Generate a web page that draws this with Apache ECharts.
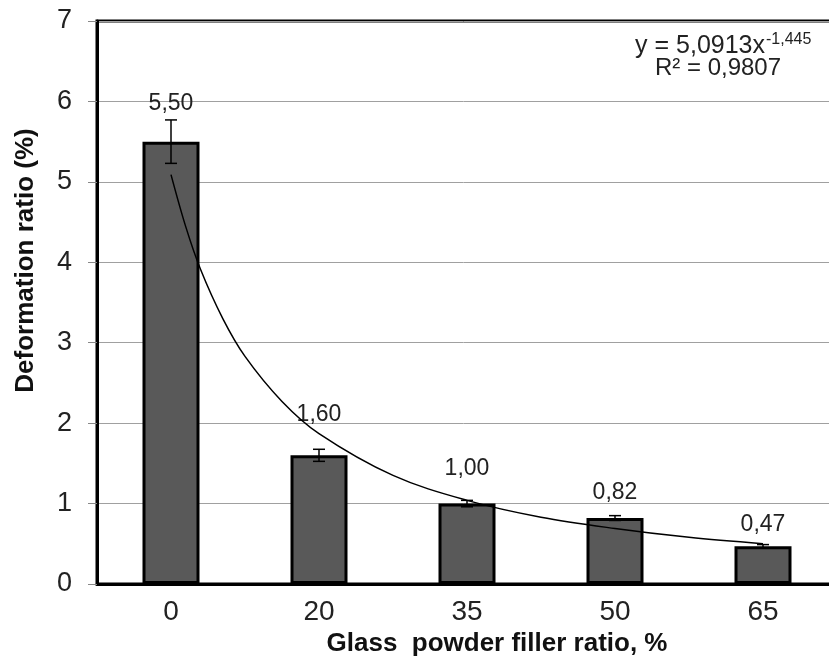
<!DOCTYPE html>
<html>
<head>
<meta charset="utf-8">
<script src="https://cdn.jsdelivr.net/npm/echarts@6/dist/echarts.min.js"></script>
<style>html,body{margin:0;padding:0;background:#fff}#c{width:829px;height:660px}</style>
</head>
<body>
<div id="c"></div>
<script>
// ---- data ----
const categories = ['0', '20', '35', '50', '65'];
const values = [5.50, 1.60, 1.00, 0.82, 0.47];
const errors = [0.27, 0.075, 0.04, 0.03, 0.02];
// power trend line points
const trendX = [1, 1.1, 1.2, 1.35, 1.5, 1.75, 2, 2.5, 3, 3.5, 4, 4.5, 5];
const trendY = [5.09, 4.44, 3.91, 3.30, 2.83, 2.27, 1.87, 1.35, 1.04, 0.83, 0.69, 0.58, 0.50];
const yTicks = [0, 1, 2, 3, 4, 5, 6, 7];
const equationMain = 'y = 5,0913x';
const equationExp = '-1,445';
const rSquared = 'R² = 0,9807';
const xTitle = 'Glass  powder filler ratio, %';
const yTitle = 'Deformation ratio (%)';

// ---- style only ----
const labelGap = [26, 29, 23, 14, 10];
const FONT = 'Liberation Sans';

const chart = echarts.init(document.getElementById('c'), null, {renderer: 'canvas'});
const option = {
  backgroundColor: '#fff',
  animation: false,
  grid: {
    left: 97, right: -8, top: 21, bottom: 76,
    show: true, borderColor: '#000', borderWidth: 3,
    outerBoundsMode: 'none', containLabel: false
  },
  xAxis: [{
    type: 'category',
    data: categories,
    boundaryGap: true,
    axisLine: {show: true, lineStyle: {color: '#000', width: 3}},
    axisTick: {show: false},
    axisLabel: {fontFamily: 'Liberation Sans Narrow, Liberation Sans', fontSize: 28, color: '#222', margin: 14},
    name: xTitle,
    nameLocation: 'middle',
    nameGap: 47,
    nameTextStyle: {fontFamily: FONT, fontWeight: 'bold', fontSize: 26, color: '#111', padding: [0, 0, 0, 60]},
    splitLine: {show: false}
  }, {
    type: 'value',
    min: 0.5, max: 5.5,
    show: false
  }],
  yAxis: {
    type: 'value',
    min: yTicks[0], max: yTicks[yTicks.length - 1], interval: 1,
    axisLine: {show: true, lineStyle: {color: '#000', width: 3}},
    axisTick: {show: true, length: 9, lineStyle: {color: '#888', width: 1}},
    axisLabel: {fontFamily: FONT, fontSize: 27, color: '#222', margin: 25},
    splitLine: {show: true, lineStyle: {color: '#a0a0a0', width: 1}},
    name: yTitle,
    nameLocation: 'middle',
    nameGap: 58,
    nameTextStyle: {fontFamily: FONT, fontWeight: 'bold', fontSize: 26, color: '#111', padding: [0, 0, 0, 84]}
  },
  series: [{
    type: 'bar',
    xAxisIndex: 0,
    barWidth: 57,
    data: values.map((v, i) => ({value: v, label: {distance: labelGap[i]}})),
    itemStyle: {color: '#595959', borderColor: '#000', borderWidth: 3},
    label: {
      show: true, position: 'top',
      formatter: p => p.value.toFixed(2).replace('.', ','),
      fontFamily: FONT, fontSize: 23, color: '#222'
    },
    z: 2
  }, {
    type: 'custom',
    xAxisIndex: 0,
    data: values.map((v, i) => [i, v, errors[i]]),
    renderItem: function (params, api) {
      const i = api.value(0), v = api.value(1), e = api.value(2);
      const t = api.coord([i, v + e]);
      const b = api.coord([i, v - e]);
      const hw = 6;
      const st = {stroke: '#000', lineWidth: 1.5};
      return {
        type: 'group',
        children: [
          {type: 'line', shape: {x1: t[0], y1: t[1], x2: b[0], y2: b[1]}, style: st},
          {type: 'line', shape: {x1: t[0] - hw, y1: t[1], x2: t[0] + hw, y2: t[1]}, style: st},
          {type: 'line', shape: {x1: b[0] - hw, y1: b[1], x2: b[0] + hw, y2: b[1]}, style: st}
        ]
      };
    },
    z: 4
  }, {
    type: 'line',
    xAxisIndex: 1,
    data: trendX.map((x, i) => [x, trendY[i]]),
    smooth: 0.35,
    symbol: 'none',
    lineStyle: {color: '#000', width: 1.5},
    z: 5
  }],
  graphic: [
    {type: 'text', x: 765, y: 46, style: {text: equationMain, align: 'right', verticalAlign: 'middle', fontFamily: FONT, fontSize: 25, fill: '#222'}},
    {type: 'text', x: 766, y: 40, style: {text: equationExp, align: 'left', verticalAlign: 'middle', fontFamily: FONT, fontSize: 16, fill: '#222'}},
    {type: 'text', x: 718, y: 68, style: {text: rSquared, align: 'center', verticalAlign: 'middle', fontFamily: FONT, fontSize: 24, fill: '#222'}}
  ]
};
chart.setOption(option);
</script>
</body>
</html>
